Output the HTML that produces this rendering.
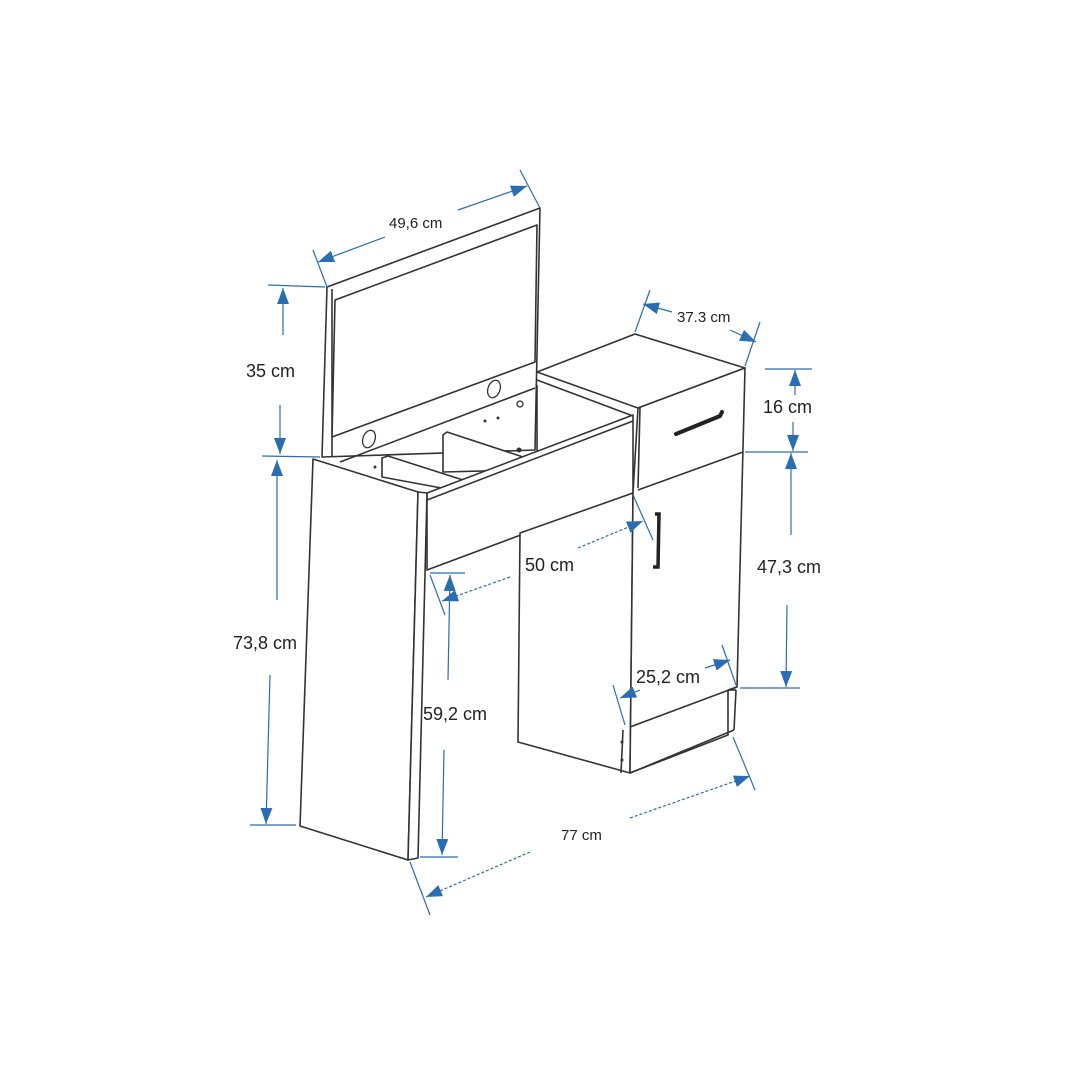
<!DOCTYPE html>
<html><head><meta charset="utf-8"><style>
html,body{margin:0;padding:0;background:#fff;width:1080px;height:1080px;overflow:hidden}
svg{display:block}
text{font-family:"Liberation Sans",sans-serif;font-size:18px;fill:#222}
</style></head><body>
<svg width="1080" height="1080" viewBox="0 0 1080 1080" xmlns="http://www.w3.org/2000/svg">
<defs>
<marker id="a" viewBox="0 0 16 12" refX="16" refY="6" markerWidth="16" markerHeight="12" orient="auto-start-reverse" markerUnits="userSpaceOnUse">
<path d="M0,0 L16,6 L0,12 z" fill="#2a6db0"/></marker>
</defs>
<g fill="#fff" stroke="#333" stroke-width="1.6" stroke-linejoin="round">
<polygon points="327,287 540,208 535,450 322,457"/>
<polyline points="332,289 332,456" fill="none"/>
<polygon points="335,300 537,225 535,362 332,437"/>
<line x1="340" y1="462" x2="535" y2="388"/>
<polygon points="537,372 635,334 745,368 638,408"/>
<line x1="537" y1="380" x2="633" y2="416"/>
<polyline points="537,385 537,452" fill="none"/>
<polygon points="382,458 388,456 463,480 463,492 382,477"/>
<polygon points="443,435 447,432 523,457 523,470 443,472"/>
<polygon points="427,493 633,415 633,493 427,570"/>
<line x1="427" y1="500" x2="633" y2="421"/>
<polygon points="520,533 633,493 630,773 518,742"/>
<polygon points="638,408 745,368 737,687 728,690 728,735 630,773 633,493"/>
<line x1="640" y1="408" x2="638" y2="488"/>
<line x1="638" y1="490" x2="743" y2="452"/>
<line x1="630" y1="727" x2="737" y2="687"/>
<line x1="728" y1="690" x2="736" y2="690"/>
<line x1="736" y1="690" x2="734" y2="730"/>
<line x1="734" y1="730" x2="630" y2="773"/>
<line x1="623" y1="730" x2="621" y2="773"/>
<polygon points="313,459 418,492 408,860 300,826"/>
<polygon points="418,492 427,493 418,858 408,860"/>
</g>
<path d="M676,434 L720,416 L722,412" stroke="#222" stroke-width="4" fill="none" stroke-linecap="round"/>
<path d="M655,514 L659,514 L658,567 L653,567" stroke="#222" stroke-width="3.5" fill="none"/>
<g fill="none" stroke="#333" stroke-width="1.3">
<ellipse cx="369" cy="439" rx="6" ry="9" transform="rotate(20 369 439)"/>
<ellipse cx="494" cy="389" rx="6" ry="9" transform="rotate(20 494 389)"/>
<circle cx="520" cy="404" r="3"/>
</g>
<g fill="#333"><circle cx="375" cy="467" r="1.5"/><circle cx="485" cy="421" r="1.5"/><circle cx="498" cy="418" r="1.5"/><circle cx="519" cy="450" r="2.5"/><circle cx="622" cy="742" r="1.5"/><circle cx="622" cy="760" r="1.5"/></g>
<g stroke="#2a6db0" stroke-width="1.2" fill="none">
<line x1="313" y1="250" x2="327" y2="287"/><line x1="520" y1="170" x2="540" y2="208"/>
<line x1="385" y1="237" x2="318" y2="262" marker-end="url(#a)"/><line x1="458" y1="210" x2="527" y2="186" marker-end="url(#a)"/>
<line x1="268" y1="285" x2="325" y2="287"/><line x1="262" y1="456" x2="320" y2="457"/>
<line x1="283" y1="335" x2="283" y2="288" marker-end="url(#a)"/><line x1="280" y1="405" x2="280" y2="454" marker-end="url(#a)"/>
<line x1="277" y1="460" x2="277" y2="600" marker-start="url(#a)"/><line x1="270" y1="675" x2="266" y2="824" marker-end="url(#a)"/>
<line x1="250" y1="825" x2="296" y2="825"/>
<line x1="430" y1="573" x2="465" y2="573"/><line x1="420" y1="857" x2="458" y2="857"/>
<line x1="430" y1="575" x2="445" y2="615"/>
<line x1="450" y1="575" x2="448" y2="680" marker-start="url(#a)"/><line x1="444" y1="750" x2="442" y2="855" marker-end="url(#a)"/>
<line x1="510" y1="577" x2="442" y2="601" stroke-dasharray="3,2" marker-end="url(#a)"/>
<line x1="578" y1="548" x2="643" y2="521" stroke-dasharray="3,2" marker-end="url(#a)"/>
<line x1="633" y1="495" x2="653" y2="540"/>
<line x1="410" y1="862" x2="430" y2="915"/><line x1="733" y1="737" x2="755" y2="790"/>
<line x1="530" y1="852" x2="426" y2="897" stroke-dasharray="3,2" marker-end="url(#a)"/>
<line x1="630" y1="818" x2="750" y2="776" stroke-dasharray="3,2" marker-end="url(#a)"/>
<line x1="650" y1="290" x2="635" y2="332"/><line x1="760" y1="322" x2="745" y2="366"/>
<line x1="672" y1="312" x2="643" y2="304" marker-end="url(#a)"/><line x1="730" y1="330" x2="756" y2="342" marker-end="url(#a)"/>
<line x1="765" y1="369" x2="812" y2="369"/><line x1="745" y1="452" x2="808" y2="452"/>
<line x1="795" y1="395" x2="795" y2="370" marker-end="url(#a)"/><line x1="793" y1="422" x2="793" y2="451" marker-end="url(#a)"/>
<line x1="791" y1="453" x2="791" y2="535" marker-start="url(#a)"/><line x1="787" y1="605" x2="786" y2="687" marker-end="url(#a)"/>
<line x1="740" y1="688" x2="800" y2="688"/>
<line x1="613" y1="685" x2="625" y2="725"/><line x1="722" y1="645" x2="736" y2="685"/>
<line x1="640" y1="690" x2="620" y2="698" marker-end="url(#a)"/><line x1="705" y1="668" x2="730" y2="660" marker-end="url(#a)"/>
</g>
<text x="389" y="228" style="font-size:15px">49,6 cm</text>
<text x="246" y="377">35 cm</text>
<text x="233" y="649">73,8 cm</text>
<text x="423" y="720">59,2 cm</text>
<text x="525" y="571">50 cm</text>
<text x="561" y="840" style="font-size:15px">77 cm</text>
<text x="677" y="322" style="font-size:15px">37.3 cm</text>
<text x="763" y="413">16 cm</text>
<text x="757" y="573">47,3 cm</text>
<text x="636" y="683">25,2 cm</text>
</svg>
</body></html>
